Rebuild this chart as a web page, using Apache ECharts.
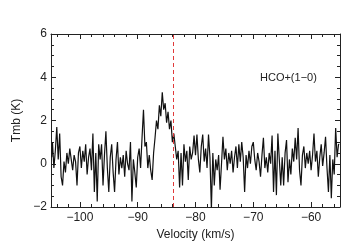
<!DOCTYPE html>
<html><head><meta charset="utf-8">
<script src="https://cdn.jsdelivr.net/npm/echarts@6/dist/echarts.min.js"></script>
<style>html,body{margin:0;padding:0;background:#fff}#c{width:360px;height:249px}</style>
</head><body><div id="c"></div>
<script>
// spectrum: channel velocities start and width (km/s)
const vStart = -104.875;
const vStep = 0.25;
const tmb = [
 0.3, 1.0, -0.2, 0.6, 1.7, 0.2, 1.4, -0.6, -1.0, 0.1,
 -0.4, 0.5, 0.0, 0.7, 0.2, -0.3, 0.4, 0.1, -1.0, 0.5,
 0.8, -0.2, 0.6, 0.1, 0.9, -0.5, 0.3, 0.7, -0.3, 1.4,
 -1.3, 0.5, -1.75, 0.9, 0.2, 0.9, -1.0, 0.4, 1.5, -0.2,
 -1.3, 0.3, 0.9, -0.4, -1.3, 0.2, 1.0, -0.5, 0.3, -0.2,
 0.4, -0.6, 0.6, 0.0, -0.3, 1.0, -1.75, 0.2, -0.4, -1.1,
 0.3, 0.7, -0.2, 1.2, 2.5, 0.8, 1.0, -0.2, 0.4, -0.3,
 -0.75, 0.5, 1.2, 2.0, 1.6, 2.7, 2.2, 3.3, 2.5, 2.8,
 1.9, 2.4, 1.6, 2.0, 1.0, 1.4, 0.8, 0.2, 0.6, -1.1,
 0.5, -1.0, 0.9, 0.1, 0.6, -0.75, 0.8, 0.2, 0.5, 1.3,
 0.4, 1.35, 0.2, -0.4, 0.8, 1.35, 0.1, 0.7, -0.2, 1.35,
 0.3, -2.1, 0.5, -1.0, 0.2, -0.3, 0.4, -1.2, 0.0, 1.25,
 0.2, 0.7, -0.3, 0.5, 0.0, 0.6, -0.4, 0.3, 0.8, -0.2,
 0.9, 0.1, 1.0, 0.3, -1.3, 0.4, -0.2, 0.6, 0.0, 0.8,
 1.0, 0.2, -0.3, 0.5, 0.1, -0.6, 0.4, 1.2, -0.2, 0.3,
 -0.4, 0.5, 0.0, 1.3, -1.3, 0.6, -1.45, 1.4, 0.2, -1.0,
 0.3, -1.0, 0.5, 1.1, -0.85, 0.2, -0.5, 0.7, 0.1, 1.2,
 0.2, 1.65, -0.3, -1.0, 0.4, 0.8, -0.2, 0.5, 0.0, 0.6,
 -0.3, 0.4, 1.4, 0.1, 0.6, -0.6, 0.3, 0.9, -0.1, 0.5,
 1.25, -0.2, -1.3, 0.4, -1.6, 0.2, -0.5, 1.65, 0.3, 0.9
];
const xTicks = [-100, -90, -80, -70, -60];
const xMinorTicks = [-104, -102, -98, -96, -94, -92, -88, -86, -84, -82, -78, -76, -74, -72, -68, -66, -64, -62, -58, -56];
const yTicks = [-2, 0, 2, 4, 6];
const refVelocity = -83.8;
const lineLabel = 'HCO+(1\u22120)';

const data = tmb.map((t, i) => [vStart + vStep * i, t]);
const fmt = v => String(v).replace('-', '\u2212');
const font = 'Liberation Sans';
const ink = '#222';

function xAx(pos, major, showLine, extra) {
  return Object.assign({
    type: 'value', min: -105, max: -55, position: pos,
    axisLine: {show: showLine, onZero: false, lineStyle: {color: ink, width: 1}},
    axisTick: {show: true, inside: true, length: major ? 5 : 3, lineStyle: {color: ink},
      customValues: major ? xTicks : xMinorTicks},
    axisLabel: {show: false},
    splitLine: {show: false}
  }, extra || {});
}
const baseY = {
  type: 'value', min: -2, max: 6, interval: 2,
  axisLine: {show: true, onZero: false, lineStyle: {color: ink, width: 1}},
  axisTick: {show: true, inside: true, length: 5, lineStyle: {color: ink}},
  minorTick: {show: true, splitNumber: 4, length: 3, lineStyle: {color: ink}},
  splitLine: {show: false}, minorSplitLine: {show: false}
};

const chart = echarts.init(document.getElementById('c'), null, {renderer: 'canvas'});
chart.setOption({
  animation: false,
  backgroundColor: '#fff',
  textStyle: {fontFamily: font},
  grid: {left: 51, right: 20, top: 34, bottom: 42},
  xAxis: [
    xAx('bottom', true, true, {
      name: 'Velocity (km/s)', nameLocation: 'middle', nameGap: 20,
      nameTextStyle: {fontSize: 12, color: ink, fontFamily: font},
      axisLabel: {show: true, margin: 5, fontSize: 12, color: ink, fontFamily: font,
        customValues: xTicks, formatter: v => fmt(v)}
    }),
    xAx('bottom', false, false),
    xAx('top', true, true),
    xAx('top', false, false)
  ],
  yAxis: [
    Object.assign({}, baseY, {
      position: 'left',
      name: 'Tmb (K)', nameLocation: 'middle', nameGap: 28,
      nameTextStyle: {fontSize: 12, color: ink, fontFamily: font},
      axisLabel: {show: true, margin: 4, fontSize: 12, color: ink, fontFamily: font,
        formatter: v => yTicks.includes(v) ? fmt(v) : ''}
    }),
    Object.assign({}, baseY, {position: 'right', axisLabel: {show: false}})
  ],
  series: [{
    type: 'line', step: 'middle', data: data, showSymbol: false, clip: true,
    lineStyle: {color: '#111', width: 1.2},
    markLine: {
      silent: true, symbol: ['none', 'none'], label: {show: false},
      lineStyle: {color: '#e03a3a', type: [4, 3], width: 1},
      data: [{xAxis: refVelocity}]
    }
  }],
  graphic: [{
    type: 'text', left: 260, top: 72,
    style: {text: lineLabel, fontSize: 11, fill: ink, fontFamily: font}
  }]
});
</script></body></html>
